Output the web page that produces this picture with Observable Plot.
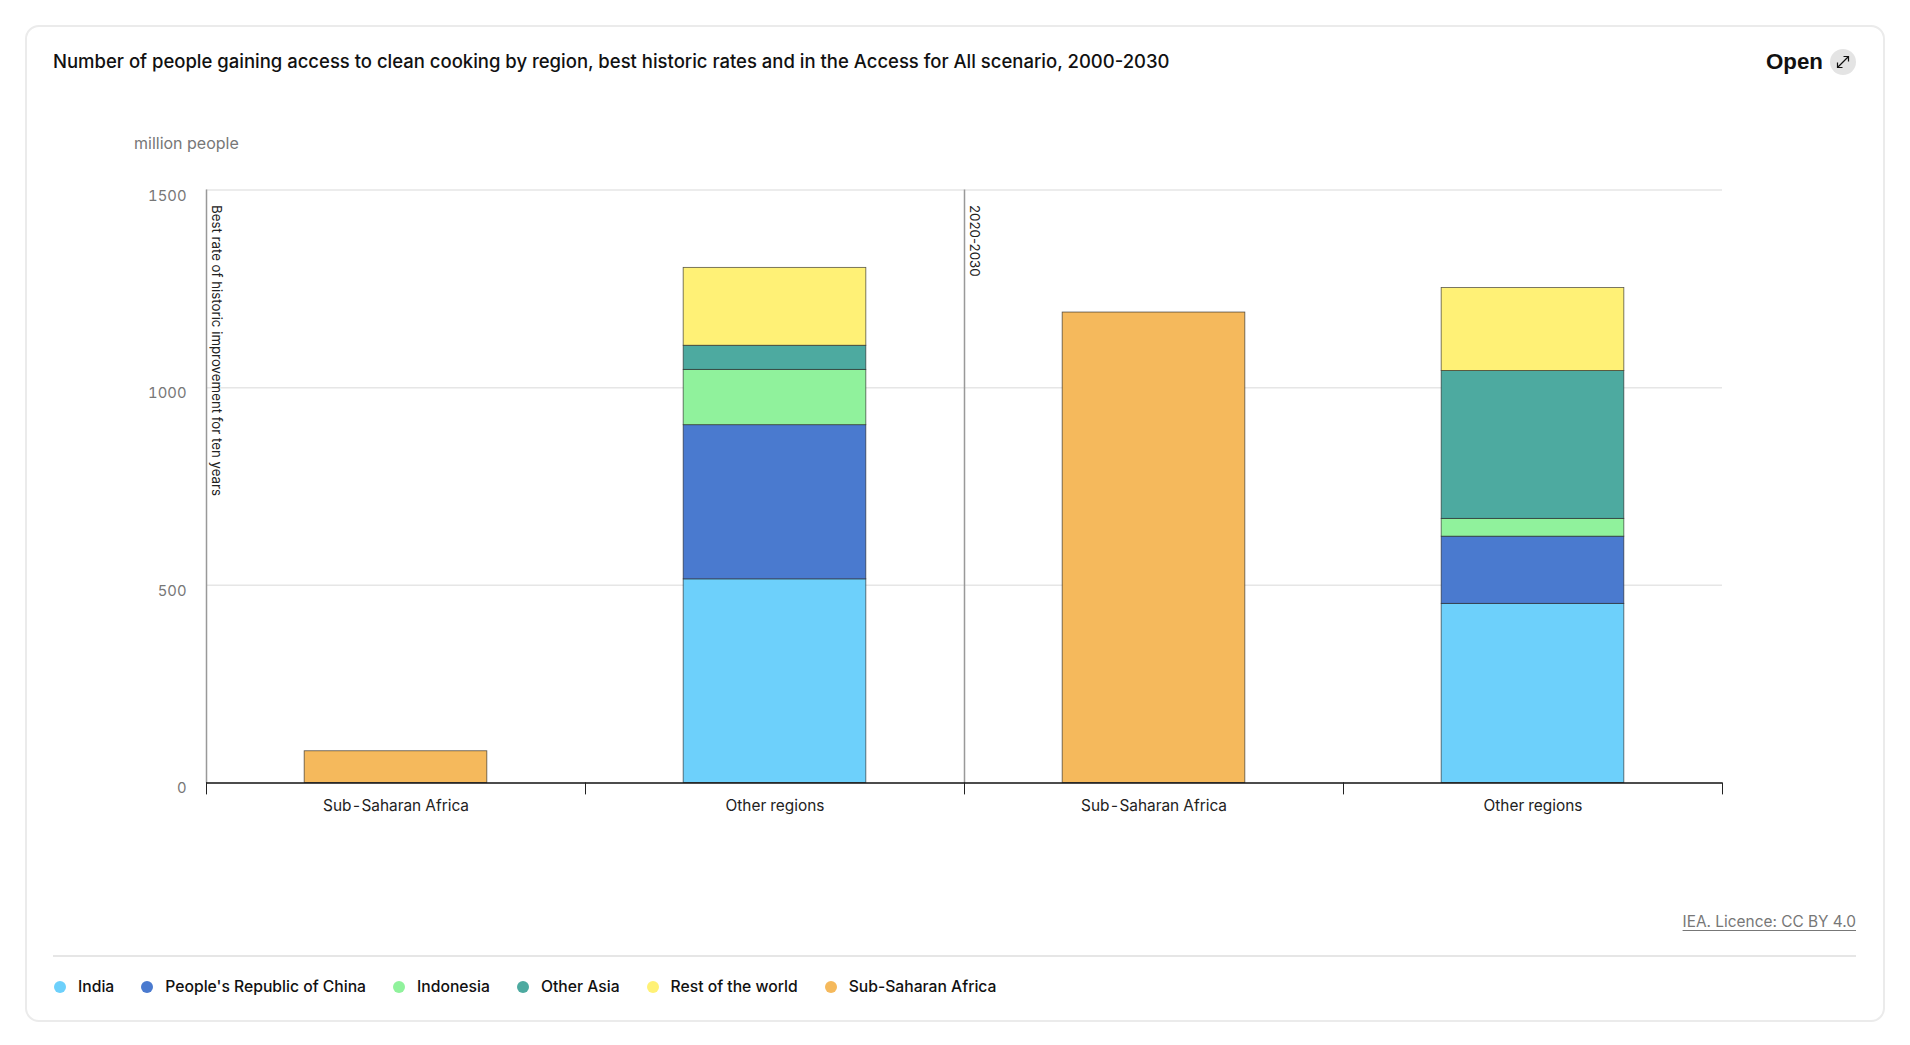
<!DOCTYPE html>
<html><head><meta charset="utf-8">
<script src="https://cdn.jsdelivr.net/npm/d3@7"></script>
<script src="https://cdn.jsdelivr.net/npm/@observablehq/plot@0.6"></script>
<style>
html,body{margin:0;padding:0;background:#fff;width:1910px;height:1045px;overflow:hidden;font-family:Inter,"Noto Sans",sans-serif}
#card{position:absolute;left:25px;top:25px;width:1856px;height:993px;border:2px solid #ebebeb;border-radius:14px;box-sizing:content-box}
.abs{position:absolute;white-space:nowrap}
#title{left:53px;top:48.500px;font-size:18.490px;font-weight:500;color:#111;line-height:24px}
#open{left:1766px;top:49px;font:bold 22.300px/26px "Liberation Sans",sans-serif;color:#111}
#icon{left:1830px;top:49px}
#unit{left:134px;top:133px;font-size:16px;line-height:20px;color:#777;font-weight:400}
#licence{right:54px;top:912px;font-size:15.400px;line-height:20px;color:#777;text-decoration:underline;text-underline-offset:3px}
#rule{left:53px;top:955px;width:1803px;height:2px;background:#e6e6e6}
#legend{left:54px;top:977px;display:flex;font-size:15.700px;font-weight:500;line-height:20px;color:#111}
#legend .item{display:flex;align-items:center;margin-right:27px}
#legend .dot{width:12px;height:12px;border-radius:50%;margin-right:12px}
#chart{left:0;top:140px}
</style></head><body>
<div id="card"></div>
<div id="title" class="abs">Number of people gaining access to clean cooking by region, best historic rates and in the Access for All scenario, 2000-2030</div>
<div id="open" class="abs">Open</div>
<svg id="icon" class="abs" width="26" height="26" viewBox="0 0 26 26"><circle cx="13" cy="13" r="13" fill="#e4e4e4"/><path d="M7.500 18.500 18.500 7.500M13.500 7.500h5v5M7.500 13.500v5h5" fill="none" stroke="#111" stroke-width="1.200"/></svg>
<div id="unit" class="abs">million people</div>
<div id="chart" class="abs"></div>
<div id="licence" class="abs">IEA. Licence: CC BY 4.0</div>
<div id="rule" class="abs"></div>
<div id="legend" class="abs"></div>
<script>
const seriesNames = ["India","People's Republic of China","Indonesia","Other Asia","Rest of the world","Sub-Saharan Africa"];
const seriesColors = ["#6dd0fb","#4a7acf","#90f29c","#4daaa0","#fff176","#f5b95c"];
const categories = ["Sub-Saharan Africa","Other regions","Sub-Saharan Africa","Other regions"];
const india          = [0,515,0,453];
const china          = [0,390,0,170];
const indonesia      = [0,140,0,45];
const otherAsia      = [0,61,0,374];
const restOfWorld    = [0,197,0,210];
const subSaharan     = [80,0,1190,0];
const yTicks = [0,500,1000,1500];
const gridTicks = [500,1000,1500];
const boundaries = [0,1,2,3,4];
const notes = [{at:0,text:"Best rate of historic improvement for ten years"},{at:2,text:"2020-2030"}];

const seriesValues = [india,china,indonesia,otherAsia,restOfWorld,subSaharan];
const barWidth = 0.482;
const rows = categories.flatMap((c,i)=>{
  let sum = 0;
  return seriesNames.map((s,k)=>{
    const v = seriesValues[k][i];
    const row = {slot:i,series:s,low:sum,high:sum+v};
    sum += v;
    return row;
  }).filter(r=>r.high>r.low);
});
const plot = Plot.plot({
  width:1910,height:720,
  marginLeft:206,marginRight:188,marginTop:49.5,marginBottom:77.6,
  style:{fontFamily:"Inter,'Noto Sans',sans-serif",background:"transparent"},
  x:{domain:[0,4]},
  y:{domain:[0,1500]},
  color:{domain:seriesNames,range:seriesColors},
  marks:[
    Plot.ruleY(gridTicks,{stroke:"#e6e6e6",strokeWidth:1.5}),
    Plot.ruleX([0,2],{stroke:"#999",strokeWidth:1.5}),
    Plot.rectY(rows,{x1:d=>d.slot+0.5-barWidth/2,x2:d=>d.slot+0.5+barWidth/2,y1:"low",y2:"high",fill:"series",stroke:"#222",strokeWidth:0.8,strokeOpacity:0.75}),
    Plot.ruleY([0],{stroke:"#111",strokeWidth:1.5}),
    Plot.axisY({ticks:yTicks,tickSize:0,tickPadding:20,dy:5.8,label:null,fontSize:14.8,color:"#777",tickFormat:d=>String(d)}),
    Plot.axisX({ticks:boundaries,tickSize:12,tickFormat:()=>"",label:null,stroke:"#222"}),
    Plot.axisX({ticks:categories.map((c,i)=>i+0.5),tickSize:0,tickPadding:17,label:null,fontSize:15.4,color:"#222",tickFormat:d=>categories[d-0.5]}),
    Plot.text(notes,{x:"at",y:()=>1462,text:"text",rotate:90,textAnchor:"start",lineAnchor:"middle",dx:10,fontSize:13.27,fill:"#222"})
  ]
});
document.getElementById("chart").appendChild(plot);
const legend = document.getElementById("legend");
seriesNames.forEach((s,i)=>{
  const item = document.createElement("div");item.className="item";
  const dot = document.createElement("span");dot.className="dot";dot.style.background=seriesColors[i];
  const t = document.createElement("span");t.textContent=s;
  item.append(dot,t);legend.append(item);
});
</script></body></html>
